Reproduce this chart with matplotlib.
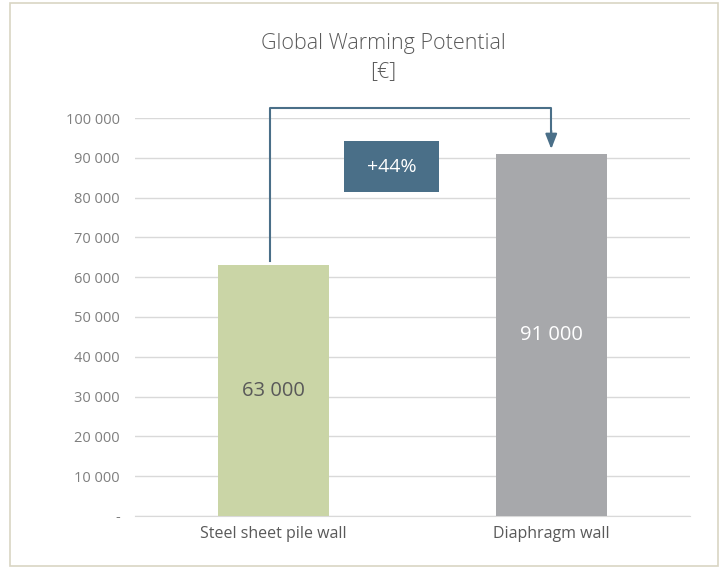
import matplotlib.pyplot as plt
import matplotlib.patches as patches

# data
categories = ['Steel sheet pile wall', 'Diaphragm wall']
values = [63000, 91000]
bar_colors = ['#cad5a6', '#a7a8ab']
label_colors = ['#595959', '#ffffff']
value_labels = ['63 000', '91 000']
yticks = [0, 10000, 20000, 30000, 40000, 50000, 60000, 70000, 80000, 90000, 100000]
ytick_labels = ['-', '10 000', '20 000', '30 000', '40 000', '50 000',
                '60 000', '70 000', '80 000', '90 000', '100 000']
change_label = '+44%'

plt.rcParams['font.family'] = ['Open Sans', 'DejaVu Sans']

fig = plt.figure(figsize=(7.23, 5.69), dpi=100)
fig.patch.set_facecolor('white')

# outer frame
frame = patches.Rectangle((10 / 723, 3 / 569), 708 / 723, 563 / 569, transform=fig.transFigure,
                          fill=False, edgecolor='#d9d5c3', linewidth=1.2)
fig.patches.append(frame)

ax = fig.add_axes([135 / 723, 53 / 569, 555 / 723, 398 / 569])
x = list(range(len(categories)))
ax.bar(x, values, width=0.4, color=bar_colors, zorder=3)
ax.set_xlim(-0.5, 1.5)
ax.set_ylim(0, 100000)

ax.set_yticks(yticks)
ax.set_yticklabels(ytick_labels, color='#7f7f7f', fontsize=10.5)
ax.set_xticks(x)
ax.set_xticklabels(categories, color='#595959', fontsize=11.5)
ax.tick_params(axis='both', length=0, pad=11)
ax.tick_params(axis='x', pad=7)
ax.grid(axis='y', color='#d9d9d9', linewidth=1, zorder=0)
for s in ['top', 'right', 'left']:
    ax.spines[s].set_visible(False)
ax.spines['bottom'].set_color('#d9d9d9')

# value labels inside bars
for xi, v, lab, c in zip(x, values, value_labels, label_colors):
    ax.text(xi, v / 2, lab, ha='center', va='center', fontsize=14.5, color=c, zorder=4)

# connector arrow
arrow_color = '#4a6f88'
x0 = x[0] - 0.012
x1 = x[1]
ytop = 102400
ax.plot([x0, x0, x1, x1], [values[0] + 1000, ytop, ytop, 96500], color=arrow_color,
        linewidth=1.5, clip_on=False, zorder=5, solid_joinstyle='round')
ax.annotate('', xy=(x1, values[1] + 1200), xytext=(x1, 96800),
            arrowprops=dict(arrowstyle='-|>,head_length=0.9,head_width=0.35',
                            color=arrow_color, lw=1.5, shrinkA=0, shrinkB=0),
            annotation_clip=False, zorder=5)

# change box
box = patches.Rectangle((0.253, 81400), 0.342, 12800, facecolor='#4a6f88', edgecolor='none', zorder=5)
ax.add_patch(box)
ax.text(0.424, 87700, change_label, ha='center', va='center', color='white', fontsize=14, zorder=6)

fig.text(383 / 723, 1 - 43 / 569, 'Global Warming Potential', ha='center', va='center',
         color='#595959', fontsize=15.5, fontweight='light')
fig.text(383 / 723, 1 - 72 / 569, '[€]', ha='center', va='center',
         color='#595959', fontsize=15.5, fontweight='light')

fig.savefig('out.png', dpi=100, facecolor=fig.get_facecolor())
